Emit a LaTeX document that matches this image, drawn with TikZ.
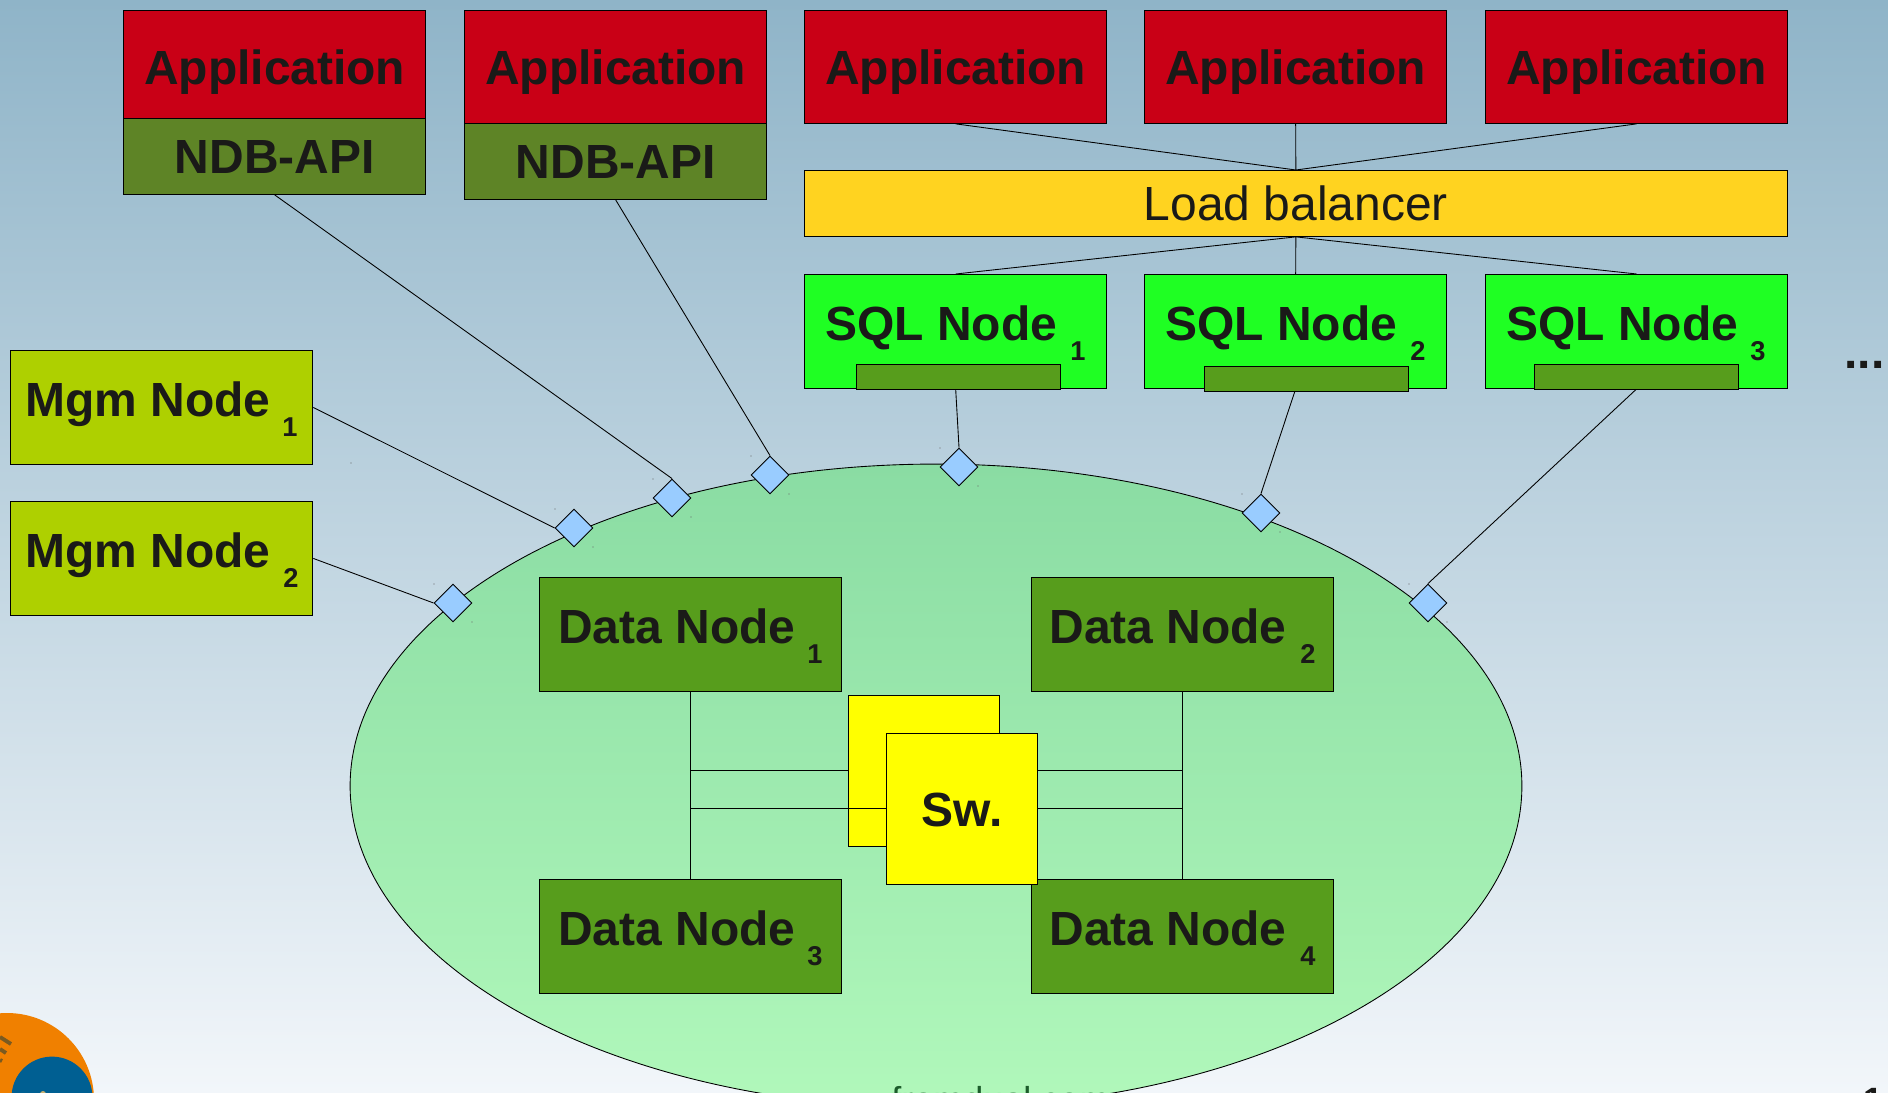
\documentclass[tikz,border=0pt]{standalone}
\usepackage{fontspec}
\setmainfont{Liberation Sans}
\usetikzlibrary{shapes.geometric}
\definecolor{apptone}{HTML}{C90016}
\definecolor{apitone}{HTML}{5E8426}
\definecolor{datatone}{HTML}{579D1C}
\definecolor{sqltone}{HTML}{1FFF23}
\definecolor{mgmtone}{HTML}{AED000}
\definecolor{lbtone}{HTML}{FFD320}
\definecolor{swtone}{HTML}{FFFF00}
\definecolor{porttone}{HTML}{99CCFF}
\definecolor{inktone}{HTML}{1A1A18}
\definecolor{skytop}{HTML}{8FB4C8}
\definecolor{skybottom}{HTML}{F2F6FA}
\definecolor{clustertop}{HTML}{8ADCA3}
\definecolor{clusterbottom}{HTML}{B1F8BB}
\definecolor{logoorange}{HTML}{F08000}
\definecolor{logoblue}{HTML}{005F92}
\definecolor{logostripe}{HTML}{7A5A20}
\definecolor{logospot}{HTML}{C8B070}
\definecolor{sitetone}{HTML}{1C5C2B}
\tikzset{
  box/.style={draw=black,line width=0.5pt,rectangle,inner sep=0pt,anchor=north west,text=inktone,
    text height=19.9pt,text depth=0pt,font=\bfseries\fontsize{27.3}{27.3}\selectfont},
  appbox/.style={box,fill=apptone,minimum width=6.05cm,minimum height=2.26cm},
  apibox/.style={box,fill=apitone,minimum width=6.05cm,minimum height=1.52cm},
  nodebox/.style={box,minimum width=6.05cm,minimum height=2.28cm},
  barbox/.style={box,fill=datatone,text height=0pt,minimum width=4.08cm,minimum height=0.5cm},
  swbox/.style={box,fill=swtone,minimum width=3.02cm,minimum height=3.02cm},
  port/.style={draw=black,line width=0.5pt,diamond,aspect=1,inner sep=0pt,fill=porttone,
    minimum width=0.76cm,minimum height=0.76cm},
  speck/.style={fill=black!60},
  wire/.style={draw=black,line width=0.5pt},
  stripe/.style={logostripe,line width=2.2pt},
  nametext/.style={anchor=base west,inner sep=0pt,text=inktone,font=\bfseries\fontsize{27.3}{27.3}\selectfont},
  subtext/.style={anchor=base,inner sep=0pt,text=inktone,font=\bfseries\fontsize{15.5}{15.5}\selectfont}
}
\begin{document}
\begin{tikzpicture}[x=0.02cm,y=-0.02cm]
 \useasboundingbox (0,0) rectangle (1888,1092);
 \clip (0,0) rectangle (1888,1092);
 \shade[top color=skytop,bottom color=skybottom] (0,0) rectangle (1888,1092);

 % logo corner
 \fill[logoorange] (7,1100) circle (87);
 \fill[logoblue] (52,1097) circle (40.4);
 \fill[logospot] (43,1094) circle (3);
 \draw[stripe] (0,1037) -- (11,1044);
 \draw[stripe] (0,1049) -- (6,1053);
 \draw[stripe] (0,1060) -- (2,1061);

 % cluster
 \node[draw=black,line width=0.5pt,ellipse,inner sep=0pt,minimum width=23.44cm,minimum height=12.88cm,
   top color=clustertop,bottom color=clusterbottom] (cluster) at (936,786) {};
 \node[anchor=base west,inner sep=0pt,font=\fontsize{20.5}{20.5}\selectfont,text=sitetone] (site) at (891,1112) {fromdual.com};
 \node[anchor=base east,inner sep=0pt,font=\bfseries\fontsize{20}{20}\selectfont,text=inktone] (pagenum) at (1883,1112) {1};
 \fill[speck] (351,463) circle (0.7);

 % boxes on top
 \node[appbox] (app1) at (123,10) {Application};
 \node[appbox] (app2) at (464,10) {Application};
 \node[appbox] (app3) at (804,10) {Application};
 \node[appbox] (app4) at (1144,10) {Application};
 \node[appbox] (app5) at (1485,10) {Application};
 \node[apibox] (api1) at (123,118) {NDB-API};
 \node[apibox] (api2) at (464,123) {NDB-API};
 \node[box,minimum width=19.66cm,minimum height=1.32cm,fill=lbtone,font=\fontsize{27.3}{27.3}\selectfont] (balancer) at (804,170) {Load balancer};
 \node[nodebox,fill=sqltone] (sql1) at (804,274) {};
 \node[nodebox,fill=sqltone] (sql2) at (1144,274) {};
 \node[nodebox,fill=sqltone] (sql3) at (1485,274) {};
 \node[nodebox,fill=mgmtone] (mgm1) at (10,350) {};
 \node[nodebox,fill=mgmtone] (mgm2) at (10,501) {};
 \node[nodebox,fill=datatone] (data1) at (539,577) {};
 \node[nodebox,fill=datatone] (data2) at (1031,577) {};
 \node[nodebox,fill=datatone] (data3) at (539,879) {};
 \node[nodebox,fill=datatone] (data4) at (1031,879) {};

 % ports
 \node[port] (port1) at (453,603) {};
 \node[port] (port2) at (574,528) {};
 \node[port] (port3) at (672,498) {};
 \node[port] (port4) at (770,475) {};
 \node[port] (port5) at (959,467) {};
 \node[port] (port6) at (1261,513) {};
 \node[port] (port7) at (1428,603) {};
 \fill[speck] (434,584) circle (0.7);
 \fill[speck] (472,622) circle (0.7);
 \fill[speck] (555,509) circle (0.7);
 \fill[speck] (593,547) circle (0.7);
 \fill[speck] (653,479) circle (0.7);
 \fill[speck] (691,517) circle (0.7);
 \fill[speck] (751,456) circle (0.7);
 \fill[speck] (789,494) circle (0.7);
 \fill[speck] (940,448) circle (0.7);
 \fill[speck] (978,486) circle (0.7);
 \fill[speck] (1242,494) circle (0.7);
 \fill[speck] (1280,532) circle (0.7);
 \fill[speck] (1409,584) circle (0.7);
 \fill[speck] (1447,622) circle (0.7);

 % connectors
 \draw[wire] (app3.south) -- (balancer.north);
 \draw[wire] (app4.south) -- (balancer.north);
 \draw[wire] (app5.south) -- (balancer.north);
 \draw[wire] (balancer.south) -- (sql1.north);
 \draw[wire] (balancer.south) -- (sql2.north);
 \draw[wire] (balancer.south) -- (sql3.north);
 \draw[wire] (api1.south) -- (port3.north);
 \draw[wire] (api2.south) -- (port4.north);
 \draw[wire] (sql1.south) -- (port5.north);
 \draw[wire] (sql2.south) -- (port6.north);
 \draw[wire] (sql3.south) -- (port7.north);
 \draw[wire] (mgm1.east) -- (port2.west);
 \draw[wire] (mgm2.east) -- (port1.west);

 % bars inside the sql nodes
 \node[barbox] (bar1) at (856,364) {};
 \node[barbox] (bar2) at (1204,366) {};
 \node[barbox] (bar3) at (1534,364) {};

 % switches
 \node[swbox] (swback) at (848,695) {};
 \coordinate (left1) at (data1.south |- 0,770);
 \coordinate (left2) at (data1.south |- 0,808);
 \coordinate (right1) at (data2.south |- 0,770);
 \coordinate (right2) at (data2.south |- 0,808);
 \draw[wire] (data1.south) -- (data3.north);
 \draw[wire] (data2.south) -- (data4.north);
 \draw[wire] (left1) -- (left1 -| swback.west);
 \node[swbox] (swfront) at (886,733) {Sw.};
 \draw[wire] (left2) -- (left2 -| swfront.west);
 \draw[wire] (right2) -- (right2 -| swfront.east);
 \draw[wire] (right1) -- (right1 -| swfront.east);

 % texts
 \node[nametext] (mgm1name) at (25,416) {Mgm Node};
 \node[subtext] (mgm1sub) at (290,436) {1};
 \node[nametext] (mgm2name) at (25,567) {Mgm Node};
 \node[subtext] (mgm2sub) at (291,587) {2};
 \node[nametext] (sql1name) at (825,340) {SQL Node};
 \node[subtext] (sql1sub) at (1078,360) {1};
 \node[nametext] (sql2name) at (1165,340) {SQL Node};
 \node[subtext] (sql2sub) at (1418,360) {2};
 \node[nametext] (sql3name) at (1506,340) {SQL Node};
 \node[subtext] (sql3sub) at (1758,360) {3};
 \node[nametext] (data1name) at (558,643) {Data Node};
 \node[subtext] (data1sub) at (815,663) {1};
 \node[nametext] (data2name) at (1049,643) {Data Node};
 \node[subtext] (data2sub) at (1308,663) {2};
 \node[nametext] (data3name) at (558,945) {Data Node};
 \node[subtext] (data3sub) at (815,965) {3};
 \node[nametext] (data4name) at (1049,945) {Data Node};
 \node[subtext] (data4sub) at (1308,965) {4};
 \node[nametext] (more) at (1844,368) {...};
\end{tikzpicture}
\end{document}
